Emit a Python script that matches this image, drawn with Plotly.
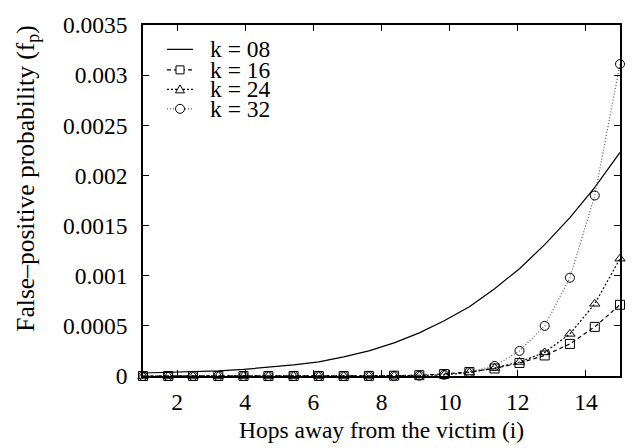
import plotly.graph_objects as go

# ---- data ----
hops = [1.0, 1.74, 2.47, 3.21, 3.95, 4.68, 5.42, 6.16, 6.89, 7.63,
        8.37, 9.11, 9.84, 10.58, 11.32, 12.05, 12.79, 13.53, 14.26, 15.0]
fp_k08 = [0.00003, 0.000035, 0.000042, 0.000052, 0.000066, 0.000085, 0.00011, 0.00014, 0.00019, 0.00025,
          0.00033, 0.00043, 0.00055, 0.00069, 0.00087, 0.00107, 0.00131, 0.00158, 0.00188, 0.00223]
fp_k16 = [0, 0, 0, 0, 0, 0, 0, 0, 0, 0.000001,
          0.000003, 0.000008, 0.00002, 0.00004, 0.000075, 0.00013, 0.000205, 0.00032, 0.00049, 0.00071]
fp_k24 = [0, 0, 0, 0, 0, 0, 0, 0, 0, 0.000001,
          0.000002, 0.000004, 0.000012, 0.000035, 0.00008, 0.00014, 0.000235, 0.00042, 0.00072, 0.00117]
fp_k32 = [0, 0, 0, 0, 0, 0, 0, 0, 0, 0.000001,
          0.000002, 0.000004, 0.000012, 0.00004, 0.0001, 0.00025, 0.0005, 0.00098, 0.0018, 0.00311]
labels = ["k = 08", "k = 16", "k = 24", "k = 32"]
x_ticks = [2, 4, 6, 8, 10, 12, 14]
y_ticks = [0, 0.0005, 0.001, 0.0015, 0.002, 0.0025, 0.003, 0.0035]
y_ticktext = ["0", "0.0005", "0.001", "0.0015", "0.002", "0.0025", "0.003", "0.0035"]

FONT = "Liberation Serif, Times New Roman, serif"
styles = [
    dict(dash="solid", color="black", symbol=None),
    dict(dash="4px,3px", color="black", symbol="square-open"),
    dict(dash="2px,2px", color="black", symbol="triangle-up-open"),
    dict(dash="1px,2px", color="#555555", symbol="circle-open"),
]
series = [fp_k08, fp_k16, fp_k24, fp_k32]

fig = go.Figure()
for ys, st, lab in zip(series, styles, labels):
    if st["symbol"] is None:
        fig.add_trace(go.Scatter(x=hops, y=ys, mode="lines", name=lab,
                                 line=dict(color="black", width=1.2, dash="solid"),
                                 showlegend=False, cliponaxis=False))
    else:
        fig.add_trace(go.Scatter(x=hops, y=ys, mode="lines+markers", name=lab,
                                 line=dict(color=st["color"], width=1.2, dash=st["dash"]),
                                 marker=dict(symbol=st["symbol"], size=9,
                                             color="black", line=dict(color="black", width=1)),
                                 showlegend=False, cliponaxis=False))

# ---- manual legend (gnuplot style) ----
shapes = []
annotations = []
row_y = [0.9306, 0.8722, 0.8167, 0.7611]
lx0, lx1, lxm, tx = 0.0503, 0.1048, 0.0776, 0.1363
for i, (st, lab) in enumerate(zip(styles, labels)):
    yy = row_y[i]
    shapes.append(dict(type="line", xref="paper", yref="paper", x0=lx0, x1=lx1, y0=yy, y1=yy,
                       line=dict(color=st["color"], width=1.2, dash=st["dash"])))
    if st["symbol"] == "square-open":
        shapes.append(dict(type="rect", xref="paper", yref="paper", xsizemode="pixel", ysizemode="pixel",
                           xanchor=lxm, yanchor=yy, x0=-4, x1=4, y0=-4, y1=4,
                           line=dict(color="black", width=1), fillcolor="white"))
    elif st["symbol"] == "triangle-up-open":
        shapes.append(dict(type="path", xref="paper", yref="paper", xsizemode="pixel", ysizemode="pixel",
                           xanchor=lxm, yanchor=yy, path="M-4.5,-3.5 L4.5,-3.5 L0,4.5 Z",
                           line=dict(color="black", width=1), fillcolor="white"))
    elif st["symbol"] == "circle-open":
        shapes.append(dict(type="circle", xref="paper", yref="paper", xsizemode="pixel", ysizemode="pixel",
                           xanchor=lxm, yanchor=yy, x0=-4.5, x1=4.5, y0=-4.5, y1=4.5,
                           line=dict(color="black", width=1), fillcolor="white"))
    annotations.append(dict(x=tx, y=yy, xref="paper", yref="paper", text=lab, showarrow=False,
                            xanchor="left", yanchor="middle",
                            font=dict(family=FONT, size=23.5, color="black")))

# axis titles
annotations.append(dict(x=0.5, y=-0.155, xref="paper", yref="paper",
                        text="Hops away from the victim (i)", showarrow=False,
                        xanchor="center", yanchor="middle",
                        font=dict(family=FONT, size=23.5, color="black")))
annotations.append(dict(x=-0.245, y=0.5625, xref="paper", yref="paper",
                        text="False\u2013positive probability (f<sub>p</sub>)", showarrow=False,
                        textangle=-90, xanchor="center", yanchor="middle",
                        font=dict(family=FONT, size=25.5, color="black")))

axis_common = dict(showline=True, linecolor="black", linewidth=1.5, mirror="allticks",
                   ticks="inside", ticklen=6, tickwidth=1, tickcolor="black",
                   showgrid=False, zeroline=False,
                   tickfont=dict(family=FONT, size=23.5, color="black"))

fig.update_layout(
    width=634, height=448,
    margin=dict(l=143, r=14, t=16, b=72),
    paper_bgcolor="white", plot_bgcolor="white",
    xaxis=dict(range=[1, 15], tickvals=x_ticks, ticklabelstandoff=4, **axis_common),
    yaxis=dict(range=[0, 0.0035], tickvals=y_ticks, ticktext=y_ticktext,
               ticklabelstandoff=9, **axis_common),
    shapes=shapes, annotations=annotations, showlegend=False,
)

fig.write_html("out.html")
